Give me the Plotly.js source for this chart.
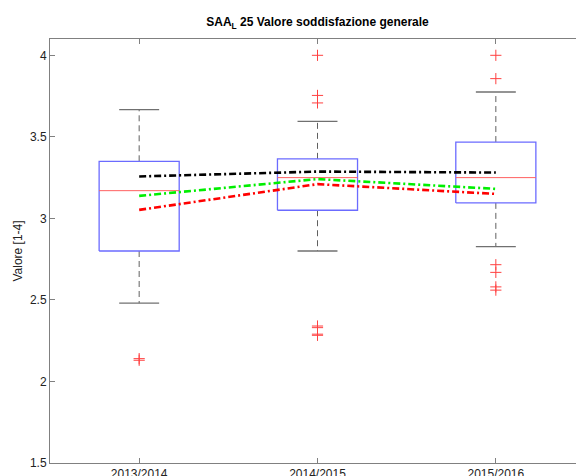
<!DOCTYPE html>
<html>
<head>
<meta charset="utf-8">
<script src="https://cdn.plot.ly/plotly-3.0.1.min.js"></script>
<style>
html,body{margin:0;padding:0;overflow:hidden;background:#fff;}
#chart{width:600px;height:476px;}
</style>
</head>
<body>
<div id="chart"></div>
<script>
// ---- data ----
const categories = ['2013/2014', '2014/2015', '2015/2016'];
const positions = [1, 2, 3];
const lowerWhisker = [2.48, 2.80, 2.827];
const q1 = [2.80, 3.05, 3.095];
const median = [3.17, 3.25, 3.25];
const q3 = [3.35, 3.365, 3.468];
const upperWhisker = [3.667, 3.595, 3.775];
const outliers = [
  [2.13, 2.14],
  [4.0, 3.754, 3.708, 2.34, 2.33, 2.29, 2.283],
  [4.0, 3.857, 2.716, 2.669, 2.58, 2.56]
];
const seriesBlack = [3.257, 3.287, 3.281];
const seriesGreen = [3.138, 3.241, 3.181];
const seriesRed = [3.052, 3.21, 3.150];

// ---- style ----
const boxWidth = 0.449;
const capWidth = 0.224;
const font = 'Arial, "Liberation Sans", Helvetica, sans-serif';
const axisGray = '#808080';

const traces = [];

// whiskers (dashed)
const wx = [], wy = [];
positions.forEach((p, i) => {
  wx.push(p, p, null, p, p, null);
  wy.push(q3[i], upperWhisker[i], null, q1[i], lowerWhisker[i], null);
});
traces.push({
  type: 'scatter', mode: 'lines', x: wx, y: wy,
  line: {color: '#606060', width: 1, dash: '6px,4px'},
  hoverinfo: 'skip', showlegend: false
});

// whisker caps
const cx = [], cy = [];
positions.forEach((p, i) => {
  cx.push(p - capWidth / 2, p + capWidth / 2, null, p - capWidth / 2, p + capWidth / 2, null);
  cy.push(upperWhisker[i], upperWhisker[i], null, lowerWhisker[i], lowerWhisker[i], null);
});
traces.push({
  type: 'scatter', mode: 'lines', x: cx, y: cy,
  line: {color: '#707070', width: 1.3},
  hoverinfo: 'skip', showlegend: false
});

// boxes (rectangles from q1/q3)
const bx = [], by = [];
positions.forEach((p, i) => {
  const l = p - boxWidth / 2, r = p + boxWidth / 2;
  bx.push(l, r, r, l, l, null);
  by.push(q1[i], q1[i], q3[i], q3[i], q1[i], null);
});
traces.push({
  type: 'scatter', mode: 'lines', x: bx, y: by,
  line: {color: '#6b6bff', width: 1.3},
  hoverinfo: 'skip', showlegend: false
});

// medians
const mx = [], my = [];
positions.forEach((p, i) => {
  mx.push(p - boxWidth / 2, p + boxWidth / 2, null);
  my.push(median[i], median[i], null);
});
traces.push({
  type: 'scatter', mode: 'lines', x: mx, y: my,
  line: {color: '#ff6060', width: 1},
  hoverinfo: 'skip', showlegend: false
});

// outliers
const ox = [], oy = [];
outliers.forEach((arr, i) => arr.forEach(v => { ox.push(positions[i]); oy.push(v); }));
traces.push({
  type: 'scatter', mode: 'markers', x: ox, y: oy,
  marker: {symbol: 'cross-thin', size: 8, line: {color: '#ff4040', width: 1}},
  hoverinfo: 'skip', showlegend: false
});

// series lines
const dashDot = '7px,3px,2px,3px';
[[seriesBlack, '#000000'], [seriesGreen, '#00ee00'], [seriesRed, '#ff0000']].forEach(([vals, col]) => {
  traces.push({
    type: 'scatter', mode: 'lines', x: positions, y: vals,
    line: {color: col, width: 2.6, dash: dashDot},
    hoverinfo: 'skip', showlegend: false
  });
});

const layout = {
  width: 600, height: 476,
  margin: {l: 50, r: 15, t: 39, b: 13},
  paper_bgcolor: '#ffffff', plot_bgcolor: '#ffffff',
  showlegend: false,
  title: {
    text: '<b>SAA<sub>L</sub> 25 Valore soddisfazione generale</b>',
    font: {family: font, size: 12, color: '#000'},
    x: 0.5, xref: 'paper', xanchor: 'center',
    y: 1 - 22 / 476, yref: 'container', yanchor: 'middle'
  },
  xaxis: {
    range: [0.5, 3.5],
    tickvals: positions, ticktext: categories,
    ticks: 'inside', ticklen: 5, tickcolor: axisGray, tickwidth: 1,
    showline: true, linecolor: axisGray, linewidth: 1, mirror: 'ticks',
    showgrid: false, zeroline: false,
    tickfont: {family: font, size: 12, color: '#222'}
  },
  yaxis: {
    range: [1.5, 4.1],
    tickvals: [1.5, 2, 2.5, 3, 3.5, 4],
    ticktext: ['1.5', '2', '2.5', '3', '3.5', '4'],
    ticks: 'inside', ticklen: 5, tickcolor: axisGray, tickwidth: 1,
    showline: true, linecolor: axisGray, linewidth: 1, mirror: 'ticks',
    showgrid: false, zeroline: false,
    tickfont: {family: font, size: 12, color: '#222'},
    title: {text: 'Valore [1-4]', font: {family: font, size: 12, color: '#222'}, standoff: 4}
  }
};

Plotly.newPlot('chart', traces, layout, {staticPlot: true, displayModeBar: false});
</script>
</body>
</html>
